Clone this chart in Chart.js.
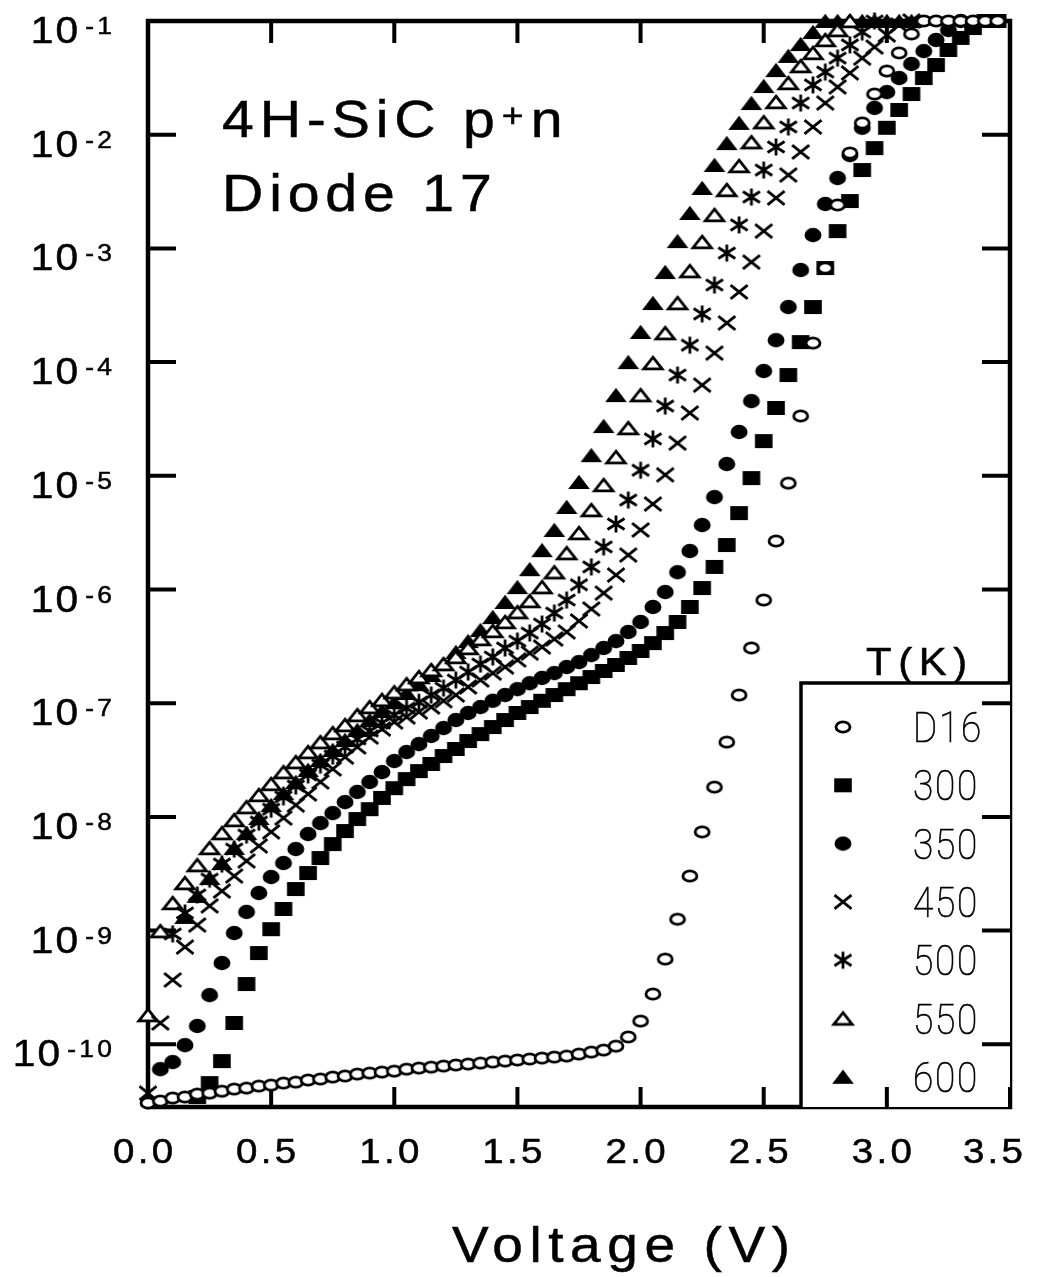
<!DOCTYPE html>
<html>
<head>
<meta charset="utf-8">
<title>4H-SiC p+n Diode 17</title>
<script src="https://cdn.jsdelivr.net/npm/chart.js@4.4.1/dist/chart.umd.min.js"></script>
<style>
  html, body { margin: 0; padding: 0; background: #fff; }
</style>
</head>
<body>
<canvas id="myChart" width="1042" height="1277"></canvas>
<script>
// forward voltage steps (V)
var volts = [
   0.00, 0.05, 0.10, 0.15, 0.20, 0.25, 0.30, 0.35, 0.40, 0.45,
   0.50, 0.55, 0.60, 0.65, 0.70, 0.75, 0.80, 0.85, 0.90, 0.95,
   1.00, 1.05, 1.10, 1.15, 1.20, 1.25, 1.30, 1.35, 1.40, 1.45,
   1.50, 1.55, 1.60, 1.65, 1.70, 1.75, 1.80, 1.85, 1.90, 1.95,
   2.00, 2.05, 2.10, 2.15, 2.20, 2.25, 2.30, 2.35, 2.40, 2.45,
   2.50, 2.55, 2.60, 2.65, 2.70, 2.75, 2.80, 2.85, 2.90, 2.95,
   3.00, 3.05, 3.10, 3.15, 3.20, 3.25, 3.30, 3.35, 3.40, 3.45
];

// current (A) for each curve, one value per voltage step
var curD16 = [
   3.05e-11, 3.17e-11, 3.37e-11, 3.44e-11, 3.65e-11, 3.72e-11, 3.87e-11, 4.04e-11, 4.12e-11, 4.29e-11,
   4.38e-11, 4.56e-11, 4.65e-11, 4.85e-11, 4.95e-11, 5.15e-11, 5.26e-11, 5.47e-11, 5.58e-11, 5.70e-11,
   5.81e-11, 6.05e-11, 6.18e-11, 6.30e-11, 6.43e-11, 6.57e-11, 6.70e-11, 6.84e-11, 6.98e-11, 7.12e-11,
   7.27e-11, 7.42e-11, 7.57e-11, 7.72e-11, 7.88e-11, 8.20e-11, 8.54e-11, 8.90e-11, 9.64e-11, 1.16e-10,
   1.60e-10, 2.77e-10, 5.62e-10, 1.26e-9, 3.02e-9, 7.38e-9, 1.83e-8, 4.55e-8, 1.18e-7, 3.06e-7,
   8.08e-7, 2.67e-6, 8.62e-6, 3.36e-5, 1.47e-4, 6.72e-4, 2.41e-3, 6.90e-3, 1.27e-2, 2.28e-2,
   3.63e-2, 5.24e-2, 7.69e-2, 0.1, 0.1, 0.1, 0.1, 0.1, 0.1, 0.1
];
var cur300 = [
   null, null, null, null, 3.44e-11, 4.56e-11, 7.12e-11, 1.54e-10, 3.39e-10, 6.35e-10,
   1.03e-9, 1.55e-9, 2.32e-9, 3.21e-9, 4.35e-9, 5.77e-9, 7.51e-9, 9.58e-9, 1.17e-8, 1.47e-8,
   1.79e-8, 2.15e-8, 2.53e-8, 2.92e-8, 3.43e-8, 3.96e-8, 4.65e-8, 5.35e-8, 6.17e-8, 7.11e-8,
   8.21e-8, 9.25e-8, 1.05e-7, 1.18e-7, 1.33e-7, 1.50e-7, 1.70e-7, 1.92e-7, 2.17e-7, 2.50e-7,
   2.88e-7, 3.38e-7, 4.14e-7, 5.18e-7, 7.02e-7, 1.03e-6, 1.58e-6, 2.46e-6, 4.70e-6, 9.55e-6,
   2.02e-5, 3.95e-5, 7.70e-5, 1.50e-4, 3.05e-4, 6.72e-4, 1.42e-3, 2.61e-3, 4.89e-3, 7.62e-3,
   1.15e-2, 1.65e-2, 2.28e-2, 3.15e-2, 4.10e-2, 5.56e-2, 7.10e-2, 8.67e-2, 0.1, 0.1
];
var cur350 = [
   null, 6.05e-11, 6.98e-11, 9.83e-11, 1.45e-10, 2.71e-10, 5.19e-10, 9.52e-10, 1.46e-9, 2.14e-9,
   2.96e-9, 3.93e-9, 5.22e-9, 7.07e-9, 8.82e-9, 1.08e-8, 1.35e-8, 1.66e-8, 2.03e-8, 2.48e-8,
   3.10e-8, 3.72e-8, 4.37e-8, 5.15e-8, 6.05e-8, 7.11e-8, 8.21e-8, 9.25e-8, 1.05e-7, 1.18e-7,
   1.33e-7, 1.50e-7, 1.67e-7, 1.84e-7, 2.08e-7, 2.30e-7, 2.65e-7, 3.06e-7, 3.52e-7, 4.23e-7,
   5.18e-7, 7.02e-7, 9.50e-7, 1.42e-6, 2.18e-6, 3.69e-6, 6.50e-6, 1.27e-5, 2.43e-5, 4.54e-5,
   8.35e-5, 1.56e-4, 3.05e-4, 6.45e-4, 1.31e-3, 2.46e-3, 4.16e-3, 6.62e-3, 1.15e-2, 1.72e-2,
   2.37e-2, 3.15e-2, 4.19e-2, 5.44e-2, 6.81e-2, 8.33e-2, 0.1, null, null, null
];
var cur450 = [
   3.72e-11, 1.54e-10, 3.68e-10, 7.17e-10, 1.12e-9, 1.65e-9, 2.23e-9, 3.02e-9, 4.10e-9, 5.55e-9,
   7.38e-9, 9.77e-9, 1.27e-8, 1.59e-8, 2.03e-8, 2.64e-8, 3.36e-8, 4.12e-8, 5.04e-8, 5.93e-8,
   6.83e-8, 7.56e-8, 8.36e-8, 9.25e-8, 1.05e-7, 1.18e-7, 1.39e-7, 1.60e-7, 1.84e-7, 2.08e-7,
   2.40e-7, 2.76e-7, 3.12e-7, 3.67e-7, 4.23e-7, 5.29e-7, 6.74e-7, 9.30e-7, 1.34e-6, 2.01e-6,
   3.34e-6, 5.65e-6, 1.02e-5, 1.94e-5, 3.57e-5, 6.28e-5, 1.20e-4, 2.21e-4, 4.14e-4, 7.58e-4,
   1.42e-3, 2.78e-3, 4.42e-3, 7.05e-3, 1.17e-2, 1.90e-2, 2.63e-2, 3.49e-2, 4.72e-2, 5.90e-2,
   7.53e-2, 9.22e-2, 0.1, null, null, null, null, null, null, null
];
var cur500 = [
   null, null, 9.34e-10, 1.43e-9, 2.06e-9, 2.84e-9, 3.85e-9, 5.22e-9, 6.93e-9, 9.00e-9,
   1.17e-8, 1.50e-8, 1.87e-8, 2.34e-8, 2.86e-8, 3.43e-8, 4.12e-8, 4.85e-8, 5.69e-8, 6.70e-8,
   7.87e-8, 9.06e-8, 1.02e-7, 1.18e-7, 1.36e-7, 1.60e-7, 1.88e-7, 2.21e-7, 2.55e-7, 3.06e-7,
   3.52e-7, 4.14e-7, 4.97e-7, 6.21e-7, 8.08e-7, 1.10e-6, 1.58e-6, 2.37e-6, 3.77e-6, 6.12e-6,
   1.12e-5, 2.11e-5, 4.11e-5, 7.70e-5, 1.41e-4, 2.65e-4, 4.76e-4, 9.10e-4, 1.61e-3, 2.83e-3,
   4.89e-3, 7.80e-3, 1.17e-2, 1.90e-2, 2.74e-2, 3.56e-2, 4.72e-2, 6.16e-2, 8.00e-2, 0.1,
   null, null, null, null, null, null, null, null, null, null
];
var cur550 = [
   1.81e-10, 9.90e-10, 1.75e-9, 2.62e-9, 3.77e-9, 5.33e-9, 7.21e-9, 9.39e-9, 1.22e-8, 1.56e-8,
   1.95e-8, 2.48e-8, 3.04e-8, 3.72e-8, 4.55e-8, 5.47e-8, 6.43e-8, 7.87e-8, 9.25e-8, 1.07e-7,
   1.25e-7, 1.47e-7, 1.70e-7, 1.96e-7, 2.21e-7, 2.55e-7, 3.06e-7, 3.67e-7, 4.32e-7, 5.18e-7,
   6.33e-7, 7.92e-7, 1.05e-6, 1.42e-6, 2.09e-6, 3.14e-6, 5.00e-6, 8.31e-6, 1.46e-5, 2.63e-5,
   5.13e-5, 9.81e-5, 1.80e-4, 3.31e-4, 6.32e-4, 1.14e-3, 1.97e-3, 3.27e-3, 5.31e-3, 8.60e-3,
   1.29e-2, 1.94e-2, 2.85e-2, 4.02e-2, 5.24e-2, 6.81e-2, 8.33e-2, 0.1, null, null,
   null, null, null, null, null, null, null, null, null, null
];
var cur600 = [
   null, null, null, 1.32e-9, 2.02e-9, 2.90e-9, 3.93e-9, 5.33e-9, 7.21e-9, 9.77e-9,
   1.27e-8, 1.62e-8, 2.03e-8, 2.59e-8, 3.17e-8, 3.88e-8, 4.74e-8, 5.81e-8, 7.11e-8, 8.53e-8,
   1.02e-7, 1.23e-7, 1.47e-7, 1.77e-7, 2.21e-7, 2.82e-7, 3.52e-7, 4.40e-7, 5.72e-7, 7.77e-7,
   1.05e-6, 1.51e-6, 2.22e-6, 3.34e-6, 5.32e-6, 8.83e-6, 1.52e-5, 2.74e-5, 5.13e-5, 1.00e-4,
   1.84e-4, 3.31e-4, 6.20e-4, 1.16e-3, 2.05e-3, 3.40e-3, 5.42e-3, 8.44e-3, 1.27e-2, 1.90e-2,
   2.68e-2, 3.70e-2, 4.93e-2, 6.27e-2, 8.00e-2, 0.1, 0.1, 0.1, 0.1, 0.1,
   0.1, 0.1, 0.1, null, null, null, null, null, null, null
];

var seriesLabels = ['D16', '300', '350', '450', '500', '550', '600'];
var seriesData = [curD16, cur300, cur350, cur450, cur500, cur550, cur600];
var seriesMarks = ['openCircle', 'square', 'dot', 'cross', 'star', 'openTri', 'tri'];

var xTicks = [0, 0.5, 1.0, 1.5, 2.0, 2.5, 3.0, 3.5];
var xTickLabels = ['0.0', '0.5', '1.0', '1.5', '2.0', '2.5', '3.0', '3.5'];
var yTicks = [1e-1, 1e-2, 1e-3, 1e-4, 1e-5, 1e-6, 1e-7, 1e-8, 1e-9, 1e-10];
var yTickExp = ['-1', '-2', '-3', '-4', '-5', '-6', '-7', '-8', '-9', '-10'];

var FONT = '"Liberation Sans", Arial, Helvetica, sans-serif';
var THIN = '100 42px Roboto, "Open Sans", sans-serif';

// the printed figure is a little stretched sideways
var SX = 1.1;

function makeMark(kind) {
   var c = document.createElement('canvas');
   c.width = 26; c.height = 22;
   var g = c.getContext('2d');
   g.translate(13, 11);
   g.lineWidth = 2.8;
   g.strokeStyle = '#000';
   g.fillStyle = '#000';
   g.beginPath();
   if (kind === 'openCircle') {
      g.ellipse(0, 0, 7, 5.2, 0, 0, 2 * Math.PI);
      g.fillStyle = '#fff'; g.fill(); g.stroke();
   } else if (kind === 'square') {
      g.fillRect(-8.8, -7, 17.6, 14);
   } else if (kind === 'dot') {
      g.ellipse(0, 0, 8.5, 7.2, 0, 0, 2 * Math.PI);
      g.fill();
   } else if (kind === 'cross') {
      g.moveTo(-8.5, -6.8); g.lineTo(8.5, 6.8);
      g.moveTo(-8.5, 6.8); g.lineTo(8.5, -6.8);
      g.stroke();
   } else if (kind === 'star') {
      g.moveTo(0, -8.5); g.lineTo(0, 8.5);
      g.moveTo(-8.5, -5.5); g.lineTo(8.5, 5.5);
      g.moveTo(-8.5, 5.5); g.lineTo(8.5, -5.5);
      g.stroke();
   } else if (kind === 'openTri') {
      g.moveTo(0, -5.8); g.lineTo(9.2, 5.8); g.lineTo(-9.2, 5.8); g.closePath();
      g.fillStyle = '#fff'; g.fill(); g.stroke();
   } else if (kind === 'tri') {
      g.moveTo(0, -7.2); g.lineTo(10.8, 7); g.lineTo(-10.8, 7); g.closePath();
      g.fill();
   }
   return c;
}

// text in the figure's spaced Helvetica look; returns the drawn width
function wideText(ctx, s, x, y, size, align, spacing, maxRight) {
   ctx.save();
   ctx.font = size + 'px ' + FONT;
   ctx.letterSpacing = spacing + 'px';
   var w = (ctx.measureText(s).width - spacing) * SX;
   var left = align === 'center' ? x - w / 2 : (align === 'right' ? x - w : x);
   if (maxRight && left + w > maxRight) left = maxRight - w;
   ctx.translate(left, y);
   ctx.scale(SX, 1);
   ctx.textAlign = 'left';
   ctx.fillStyle = '#000';
   ctx.strokeStyle = '#000';
   ctx.lineWidth = 0.5;
   ctx.fillText(s, 0, 0);
   ctx.strokeText(s, 0, 0);
   ctx.restore();
   return w;
}

var datasets = seriesData.map(function (arr, k) {
   return {
      label: seriesLabels[k],
      data: volts.map(function (v, i) { return { x: v, y: arr[i] }; }),
      pointStyle: makeMark(seriesMarks[k]),
      pointRadius: 9,
      showLine: false,
      clip: false
   };
});

var legendBox = { left: 801, top: 683 };

var framePlugin = {
   id: 'frame',
   beforeDatasetsDraw: function (chart) {
      var ctx = chart.ctx, a = chart.chartArea;
      var xs = chart.scales.x, ys = chart.scales.y;
      ctx.save();
      ctx.strokeStyle = '#000';
      ctx.lineWidth = 4.5;
      ctx.strokeRect(a.left, a.top, a.right - a.left, a.bottom - a.top);
      // legend box in the lower right corner
      ctx.fillStyle = '#fff';
      ctx.fillRect(legendBox.left, legendBox.top, a.right - legendBox.left, a.bottom - legendBox.top);
      ctx.lineWidth = 3.5;
      ctx.beginPath();
      ctx.moveTo(legendBox.left, a.bottom);
      ctx.lineTo(legendBox.left, legendBox.top);
      ctx.lineTo(a.right, legendBox.top);
      ctx.stroke();
      // inward ticks on all four sides
      ctx.lineWidth = 4;
      ctx.beginPath();
      xTicks.forEach(function (v) {
         var px = xs.getPixelForValue(v);
         ctx.moveTo(px, a.bottom); ctx.lineTo(px, a.bottom - 20);
         ctx.moveTo(px, a.top); ctx.lineTo(px, a.top + 22);
      });
      yTicks.forEach(function (v) {
         var py = ys.getPixelForValue(v);
         ctx.moveTo(a.left, py); ctx.lineTo(a.left + 28, py);
         ctx.moveTo(a.right, py); ctx.lineTo(a.right - 28, py);
      });
      ctx.stroke();
      ctx.restore();
   }
};

var textPlugin = {
   id: 'texts',
   afterDraw: function (chart) {
      var ctx = chart.ctx;
      var xs = chart.scales.x, ys = chart.scales.y;

      // y tick labels 10^-n
      yTicks.forEach(function (v, i) {
         var py = ys.getPixelForValue(v);
         var sw = wideText(ctx, yTickExp[i], 112, py + 13, 24, 'right', 3);
         wideText(ctx, '10', 112 - sw - 7, py + 22, 37, 'right', 2);
      });

      // x tick labels
      xTicks.forEach(function (v, i) {
         wideText(ctx, xTickLabels[i], xs.getPixelForValue(v) - 5, 1163, 35, 'center', 3, 1023);
      });

      // axis title
      wideText(ctx, 'Voltage (V)', 621, 1262, 50, 'center', 6);

      // sample annotation
      var w = wideText(ctx, '4H-SiC p', 222, 137, 52, 'left', 5.3);
      w += wideText(ctx, '+', 222 + w + 7, 127, 34, 'left', 0);
      wideText(ctx, 'n', 222 + w + 14, 137, 52, 'left', 0);
      wideText(ctx, 'Diode 17', 222, 211, 52, 'left', 5.3);

      // legend title and entries
      wideText(ctx, 'T(K)', 866, 675, 38, 'left', 6);
      ctx.save();
      chart.data.datasets.forEach(function (ds, i) {
         var cy = 727 + i * 58.3;
         var img = ds.pointStyle;
         ctx.drawImage(img, 843 - img.width / 2, cy - img.height / 2);
         ctx.save();
         ctx.translate(913, cy + 15);
         ctx.scale(0.88, 1);
         ctx.font = THIN;
         ctx.letterSpacing = '2px';
         ctx.fillStyle = '#000';
         ctx.strokeStyle = '#000';
         ctx.lineWidth = 0.7;
         ctx.textAlign = 'left';
         ctx.fillText(ds.label, 0, 0);
         ctx.strokeText(ds.label, 0, 0);
         ctx.restore();
      });
      ctx.restore();
   }
};

var ctx = document.getElementById('myChart').getContext('2d');
var myChart = new Chart(ctx, {
   type: 'scatter',
   data: { datasets: datasets },
   options: {
      responsive: false,
      devicePixelRatio: 1,
      animation: false,
      events: [],
      layout: { padding: { top: 21, right: 32, left: 0, bottom: 0 } },
      plugins: { legend: { display: false }, tooltip: { enabled: false } },
      scales: {
         x: {
            type: 'linear', min: 0, max: 3.5,
            ticks: { display: false }, grid: { display: false }, border: { display: false },
            afterFit: function (s) { s.height = 170; }
         },
         y: {
            type: 'logarithmic', min: 2.81e-11, max: 0.1,
            ticks: { display: false }, grid: { display: false }, border: { display: false },
            afterFit: function (s) { s.width = 148; }
         }
      }
   },
   plugins: [framePlugin, textPlugin]
});
</script>
</body>
</html>
